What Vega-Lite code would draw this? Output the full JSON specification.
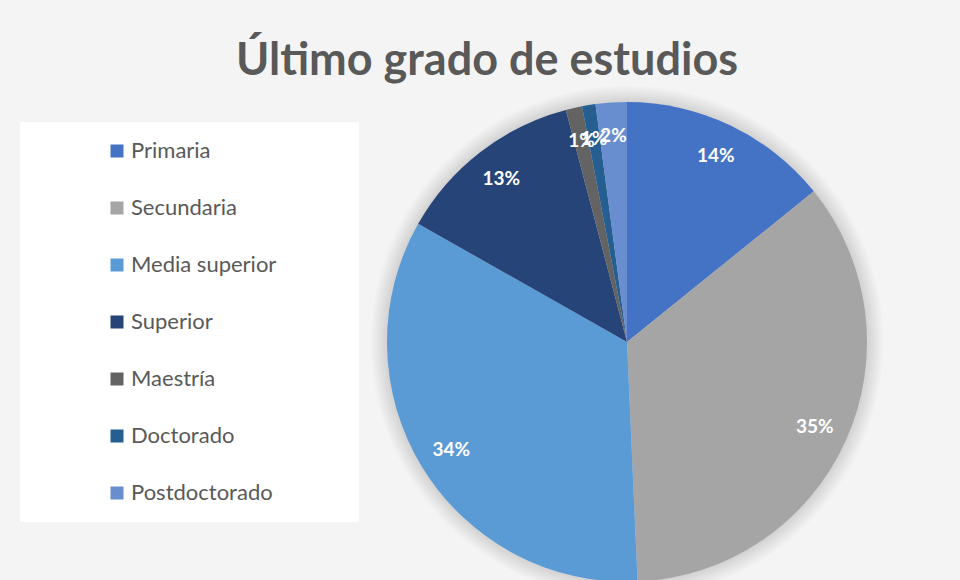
{
  "$schema": "https://vega.github.io/schema/vega-lite/v6.json",
  "width": 480,
  "height": 480,
  "autosize": {"type": "none"},
  "padding": {"left": 387, "top": 102, "right": 93, "bottom": 0},
  "background": "#f4f4f4",
  "title": {
    "text": "Último grado de estudios",
    "font": "Lato",
    "fontSize": 45,
    "fontWeight": "bold",
    "color": "#595959",
    "anchor": "middle",
    "frame": "group",
    "dx": -140,
    "offset": 2
  },
  "config": {"view": {"stroke": null}},
  "resolve": {"scale": {"theta": "independent"}},
  "layer": [
    {"data": {"values": [{"v": 1}]}, "mark": {"type": "arc", "outerRadius": 256, "color": "#000000", "opacity": 0.015}, "encoding": {"theta": {"field": "v", "type": "quantitative"}}},
    {"data": {"values": [{"v": 1}]}, "mark": {"type": "arc", "outerRadius": 254, "color": "#000000", "opacity": 0.015}, "encoding": {"theta": {"field": "v", "type": "quantitative"}}},
    {"data": {"values": [{"v": 1}]}, "mark": {"type": "arc", "outerRadius": 252, "color": "#000000", "opacity": 0.015}, "encoding": {"theta": {"field": "v", "type": "quantitative"}}},
    {"data": {"values": [{"v": 1}]}, "mark": {"type": "arc", "outerRadius": 250, "color": "#000000", "opacity": 0.015}, "encoding": {"theta": {"field": "v", "type": "quantitative"}}},
    {"data": {"values": [{"v": 1}]}, "mark": {"type": "arc", "outerRadius": 248, "color": "#000000", "opacity": 0.015}, "encoding": {"theta": {"field": "v", "type": "quantitative"}}},
    {"data": {"values": [{"v": 1}]}, "mark": {"type": "arc", "outerRadius": 246, "color": "#000000", "opacity": 0.015}, "encoding": {"theta": {"field": "v", "type": "quantitative"}}},
    {"data": {"values": [{"v": 1}]}, "mark": {"type": "arc", "outerRadius": 244, "color": "#000000", "opacity": 0.015}, "encoding": {"theta": {"field": "v", "type": "quantitative"}}},
    {"data": {"values": [{"v": 1}]}, "mark": {"type": "arc", "outerRadius": 242, "color": "#000000", "opacity": 0.015}, "encoding": {"theta": {"field": "v", "type": "quantitative"}}},
    {
      "data": {
        "values": [
          {"nivel": "Primaria", "orden": 1, "pct": 0.142},
          {"nivel": "Secundaria", "orden": 2, "pct": 0.351},
          {"nivel": "Media superior", "orden": 3, "pct": 0.339},
          {"nivel": "Superior", "orden": 4, "pct": 0.127},
          {"nivel": "Maestría", "orden": 5, "pct": 0.011},
          {"nivel": "Doctorado", "orden": 6, "pct": 0.009},
          {"nivel": "Postdoctorado", "orden": 7, "pct": 0.021}
        ]
      },
      "encoding": {
        "theta": {"field": "pct", "type": "quantitative", "stack": true},
        "order": {"field": "orden", "type": "quantitative"}
      },
      "layer": [
        {
          "mark": {"type": "arc", "outerRadius": 240},
          "encoding": {
            "color": {
              "field": "nivel",
              "type": "nominal",
              "scale": {
                "domain": ["Primaria", "Secundaria", "Media superior", "Superior", "Maestría", "Doctorado", "Postdoctorado"],
                "range": ["#4472C4", "#A5A5A5", "#5B9BD5", "#264478", "#636363", "#255E91", "#698ED0"]
              },
              "legend": {
                "orient": "none",
                "legendX": -367,
                "legendY": 20,
                "title": null,
                "fillColor": "white",
                "padding": 18,
                "symbolType": "square",
                "symbolSize": 169,
                "symbolStrokeWidth": 0,
                "symbolOffset": 68,
                "labelFont": "Lato",
                "labelFontSize": 22,
                "labelColor": "#595959",
                "labelOffset": 3,
                "rowPadding": 35,
                "labelLimit": 400,
                "labelExpr": "datum.label + '\u2800\u2800\u2800\u2800'"
              }
            }
          }
        },
        {
          "mark": {"type": "text", "radius": 206, "font": "Lato", "fontSize": 19, "fontWeight": "bold", "color": "white"},
          "encoding": {
            "text": {"field": "pct", "type": "quantitative", "format": ".0%"}
          }
        }
      ]
    }
  ]
}
